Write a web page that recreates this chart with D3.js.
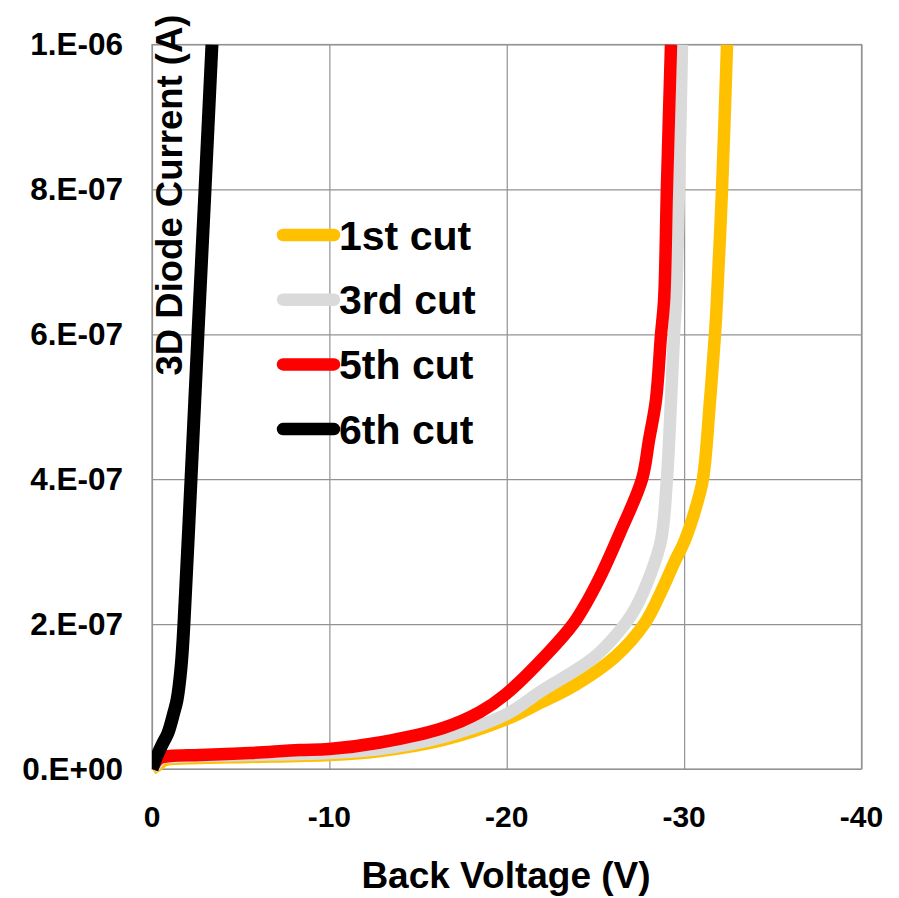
<!DOCTYPE html>
<html>
<head>
<meta charset="utf-8">
<script src="https://cdn.jsdelivr.net/npm/d3@7"></script>
<style>
  html, body { margin: 0; padding: 0; background: #fff; }
  svg { display: block; font-family: Arial, "Liberation Sans", sans-serif; font-weight: bold; }
</style>
</head>
<body>
<svg id="chart" width="899" height="898"></svg>
<script>
// ---------------- Data ----------------
const seriesNames = ["1st cut", "3rd cut", "5th cut", "6th cut"];
const seriesColors = ["#FFC000", "#DADADA", "#FF0000", "#000000"];

const xTicks = [0, -10, -20, -30, -40];
const xTickLabels = ["0", "-10", "-20", "-30", "-40"];
const yTicks = [0, 2e-7, 4e-7, 6e-7, 8e-7, 1e-6];
const yTickLabels = ["0.E+00", "2.E-07", "4.E-07", "6.E-07", "8.E-07", "1.E-06"];

const xTitle = "Back Voltage (V)";
const yTitle = "3D Diode Current (A)";

// 1st cut
const v1 = [0, -0.34, -0.73, -2.71, -5.50, -9.98, -12.85, -16.41, -20.01, -21.87, -23.85, -26.10, -27.79, -28.75, -29.43, -30.05, -30.67, -31.06, -31.46, -31.74, -31.85, -32.14, -32.42];
const i1 = [0, 5.5e-9, 1.24e-8, 1.52e-8, 1.66e-8, 1.93e-8, 2.48e-8, 4.0e-8, 6.9e-8, 9.11e-8, 1.159e-7, 1.546e-7, 2.015e-7, 2.471e-7, 2.843e-7, 3.161e-7, 3.616e-7, 4.003e-7, 5.09e-7, 6.0e-7, 6.47e-7, 8.02e-7, 1.0e-6];
// 3rd cut
const v3 = [0, -0.23, -0.56, -1.30, -2.71, -5.50, -9.98, -12.85, -16.41, -20.01, -21.87, -24.98, -26.67, -27.29, -28.13, -28.70, -29.03, -29.26, -29.43, -29.54, -29.71, -29.88];
const i3 = [0, 6.9e-9, 1.52e-8, 1.66e-8, 1.79e-8, 1.93e-8, 2.21e-8, 2.76e-8, 4.42e-8, 7.59e-8, 1.063e-7, 1.553e-7, 2.001e-7, 2.236e-7, 2.705e-7, 3.161e-7, 4.003e-7, 5.09e-7, 6.0e-7, 6.47e-7, 8.02e-7, 1.0e-6];
// 5th cut
const v5 = [0, -0.17, -0.45, -1.01, -2.71, -5.50, -8.32, -9.98, -12.85, -16.41, -18.49, -19.96, -22.27, -23.74, -24.58, -25.37, -26.38, -27.63, -28.02, -28.41, -28.70, -28.87, -29.03, -29.26];
const i5 = [0, 8.3e-9, 1.52e-8, 1.79e-8, 1.93e-8, 2.21e-8, 2.62e-8, 2.76e-8, 3.66e-8, 5.66e-8, 7.87e-8, 1.035e-7, 1.587e-7, 2.001e-7, 2.333e-7, 2.705e-7, 3.257e-7, 4.003e-7, 4.54e-7, 5.09e-7, 6.0e-7, 6.47e-7, 8.02e-7, 1.0e-6];
// 6th cut
const v6 = [0, -0.23, -0.56, -0.90, -1.24, -1.41, -1.64, -1.80, -2.20, -2.59, -2.99, -3.38];
const i6 = [0, 1.52e-8, 3.31e-8, 4.97e-8, 7.87e-8, 9.52e-8, 1.41e-7, 2.0e-7, 4.0e-7, 6.0e-7, 8.0e-7, 1.0e-6];

const seriesV = [v1, v3, v5, v6];
const seriesI = [i1, i3, i5, i6];

// ---------------- Chart ----------------
const svg = d3.select("#chart");
const plot = { left: 152, right: 861.5, top: 44.5, bottom: 769 };

const x = d3.scaleLinear().domain([0, -40]).range([plot.left, plot.right]);
const y = d3.scaleLinear().domain([0, 1e-6]).range([plot.bottom, plot.top]);

const gridColor = "#929292";

// grid lines via axes
const gx = svg.append("g")
  .attr("transform", `translate(0,${plot.bottom})`)
  .call(d3.axisBottom(x).tickValues(xTicks).tickSize(-(plot.bottom - plot.top)).tickFormat(""));
gx.select(".domain").remove();
gx.selectAll("line").attr("stroke", gridColor).attr("stroke-width", 1.2);

const gy = svg.append("g")
  .attr("transform", `translate(${plot.left},0)`)
  .call(d3.axisLeft(y).tickValues(yTicks).tickSize(-(plot.right - plot.left)).tickFormat(""));
gy.select(".domain").remove();
gy.selectAll("line").attr("stroke", gridColor).attr("stroke-width", 1.2);

// border
svg.append("rect")
  .attr("x", plot.left).attr("y", plot.top)
  .attr("width", plot.right - plot.left).attr("height", plot.bottom - plot.top)
  .attr("fill", "none").attr("stroke", gridColor).attr("stroke-width", 1.2);

// tick labels
svg.append("g").selectAll("text")
  .data(xTicks)
  .join("text")
  .attr("x", d => x(d))
  .attr("y", 827)
  .attr("text-anchor", "middle")
  .attr("font-size", 30)
  .attr("fill", "#000")
  .text((d, i) => xTickLabels[i]);

svg.append("g").selectAll("text")
  .data(yTicks)
  .join("text")
  .attr("x", 123)
  .attr("y", d => y(d) + 10.5)
  .attr("text-anchor", "end")
  .attr("font-size", 31.5)
  .attr("fill", "#000")
  .text((d, i) => yTickLabels[i]);

// axis titles
svg.append("text")
  .attr("x", 506).attr("y", 888)
  .attr("text-anchor", "middle")
  .attr("font-size", 37)
  .attr("fill", "#000")
  .text(xTitle);

svg.append("text")
  .attr("transform", "translate(182,195) rotate(-90)")
  .attr("text-anchor", "middle")
  .attr("font-size", 36.5)
  .attr("fill", "#000")
  .text(yTitle);

// clip
svg.append("clipPath").attr("id", "plotclip")
  .append("rect")
  .attr("x", plot.left).attr("y", plot.top)
  .attr("width", plot.right - plot.left).attr("height", plot.bottom - plot.top + 6);

const line = d3.line()
  .x(d => x(d[0]))
  .y(d => y(d[1]))
  .curve(d3.curveCatmullRom.alpha(0.5));

const series = seriesNames.map((name, k) => ({
  name, color: seriesColors[k],
  pts: seriesV[k].map((v, j) => [v, seriesI[k][j]])
}));

svg.append("g").attr("clip-path", "url(#plotclip)")
  .selectAll("path")
  .data(series)
  .join("path")
  .attr("d", d => line(d.pts))
  .attr("fill", "none")
  .attr("stroke", d => d.color)
  .attr("stroke-width", (d, k) => k === 3 ? 13 : 12.5)
  .attr("stroke-linejoin", "round")
  .attr("stroke-linecap", "butt");

// legend
const legendY0 = 235, legendDy = 64.7;
const lg = svg.append("g");
series.forEach((s, k) => {
  const yy = legendY0 + k * legendDy;
  lg.append("line")
    .attr("x1", 283).attr("x2", 334)
    .attr("y1", yy).attr("y2", yy)
    .attr("stroke", s.color).attr("stroke-width", 12.5)
    .attr("stroke-linecap", "round");
  lg.append("text")
    .attr("x", 339).attr("y", yy + 14.5)
    .attr("font-size", 41)
    .attr("fill", "#000")
    .text(s.name);
});
</script>
</body>
</html>
